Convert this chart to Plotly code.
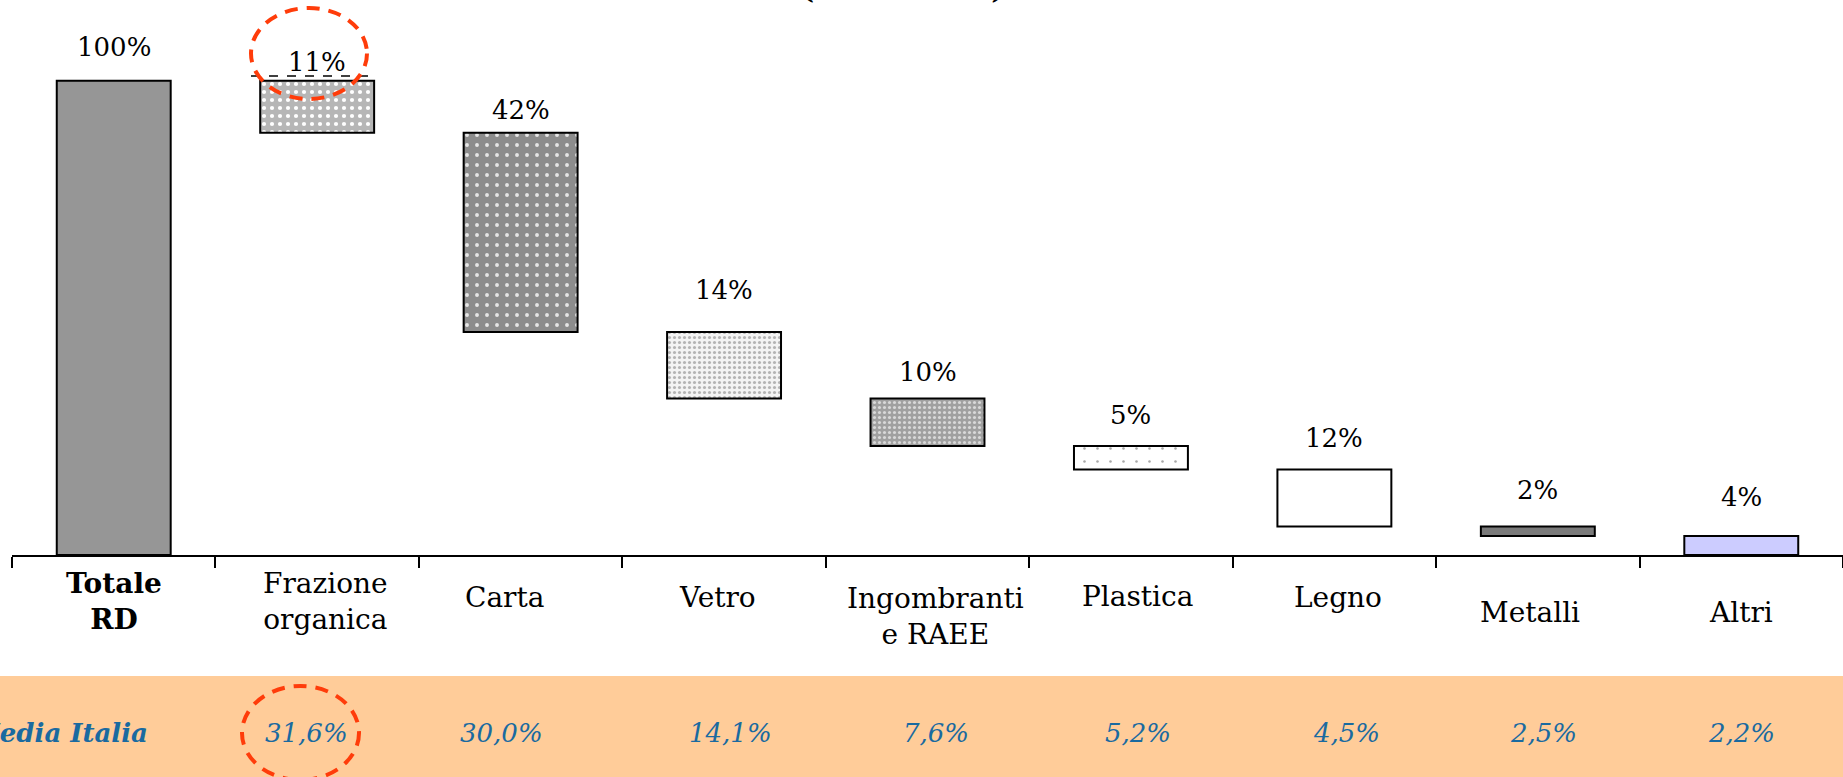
import plotly.graph_objects as go

# ---------------- data ----------------
categories = ["Totale RD", "Frazione organica", "Carta", "Vetro",
              "Ingombranti e RAEE", "Plastica", "Legno", "Metalli", "Altri"]
category_labels = ["<b>Totale<br>RD</b>", "Frazione<br>organica", "Carta", "Vetro",
                   "Ingombranti<br>e RAEE", "Plastica", "Legno", "Metalli", "Altri"]
shares = [100, 11, 42, 14, 10, 5, 12, 2, 4]          # % of total RD
media_italia = [31.6, 30.0, 14.1, 7.6, 5.2, 4.5, 2.5, 2.2]  # Italian average (Frazione..Altri)
media_label = "Media Italia"

# ---------------- styles ----------------
W, H = 1843, 777
ML, MR, MT, MB = 12, 0, 0, 222
PW, PH = W - ML - MR, H - MT - MB
YMAX = 117.0
SERIF = "DejaVu Serif"

def px_x(p):
    return (p - ML) / PW

def px_y(p):
    return (H - MB - p) / PH

fills = [
    dict(color="#969696"),
    dict(color="#b8b8b8", pattern=dict(shape=".", bgcolor="#b6b6b6", fgcolor="#ffffff", size=8, solidity=0.22, fillmode="replace")),
    dict(color="#8f8f8f", pattern=dict(shape=".", bgcolor="#8c8c8c", fgcolor="#e6e6e6", size=10, solidity=0.12, fillmode="replace")),
    dict(color="#e8e8e8", pattern=dict(shape=".", bgcolor="#f4f4f4", fgcolor="#b4b4b4", size=5, solidity=0.3, fillmode="replace")),
    dict(color="#a8a8a8", pattern=dict(shape=".", bgcolor="#a0a0a0", fgcolor="#d8d8d8", size=5, solidity=0.3, fillmode="replace")),
    dict(color="#ffffff", pattern=dict(shape=".", bgcolor="#ffffff", fgcolor="#a8a8a8", size=13, solidity=0.03, fillmode="replace")),
    dict(color="#ffffff"),
    dict(color="#7a7a7a"),
    dict(color="#ccccff"),
]
value_label_gap = [34, 19, 23, 42, 26, 31, 32, 37, 39]      # px above bar top
cat_label_center_px = [601, 601, 597, 597, 616, 596, 597, 612, 612]
cat_label_xshift = [0, 8, -16, -7, 8, 7, 4, -8, 0]
media_xshift = [-11, -19, 6, 8, 7, 12, 6, 0]

# ---------------- waterfall geometry from data ----------------
bases, tops = [], []
top = None
for i, v in enumerate(shares):
    if i == 0:
        bases.append(0)
        tops.append(v)
        top = v
    else:
        b = top - v
        bases.append(b)
        tops.append(top)
        top = b

fig = go.Figure()
for i, cat in enumerate(categories):
    m = dict(fills[i])
    m["line"] = dict(color="black", width=2)
    fig.add_trace(go.Bar(x=[cat], y=[shares[i]], base=[bases[i]], marker=m,
                         width=0.56, showlegend=False, hoverinfo="skip"))

annotations = []
# value labels
for i, cat in enumerate(categories):
    annotations.append(dict(x=cat, y=tops[i], xref="x", yref="y", text=f"{shares[i]}%",
                            showarrow=False, yanchor="middle", yshift=value_label_gap[i],
                            font=dict(family=SERIF, size=26, color="black")))
# category labels
for i, cat in enumerate(categories):
    annotations.append(dict(x=cat, y=px_y(cat_label_center_px[i]), xref="x", yref="paper",
                            text=category_labels[i], showarrow=False, yanchor="middle",
                            xshift=cat_label_xshift[i],
                            font=dict(family=SERIF, size=28, color="black")))
# media italia row
BLUE = "#1a6aa0"
annotations.append(dict(x=px_x(150), y=px_y(733), xref="paper", yref="paper",
                        text=f"<b><i>{media_label}</i></b>", showarrow=False,
                        xanchor="right", yanchor="middle",
                        font=dict(family=SERIF, size=26, color=BLUE)))
for j, v in enumerate(media_italia):
    annotations.append(dict(x=categories[j + 1], y=px_y(733), xref="x", yref="paper",
                            text="<i>" + f"{v:.1f}".replace(".", ",") + "%</i>",
                            showarrow=False, yanchor="middle", xshift=media_xshift[j],
                            font=dict(family=SERIF, size=26, color=BLUE)))
# title (mostly above the visible area)
annotations.append(dict(x=px_x(902), y=px_y(7), xref="paper", yref="paper",
                        text="<b>(anno 2009)</b>", showarrow=False, yanchor="bottom",
                        font=dict(family=SERIF, size=30, color="black")))

RED = "#ff3c0a"
shapes = [
    # orange band
    dict(type="rect", xref="paper", yref="paper", x0=px_x(0), x1=px_x(W + 5),
         y0=px_y(676), y1=px_y(H + 5), fillcolor="#ffcc99", line=dict(width=0), layer="below"),
    # dashed reference line above Frazione organica
    dict(type="line", xref="paper", yref="paper", x0=px_x(251), x1=px_x(373),
         y0=px_y(76), y1=px_y(76), line=dict(color="black", width=1.5, dash="dash")),
    # red dashed ellipses
    dict(type="circle", xref="paper", yref="paper", x0=px_x(251), x1=px_x(367),
         y0=px_y(99), y1=px_y(8), line=dict(color=RED, width=4, dash="13px,9px")),
    dict(type="circle", xref="paper", yref="paper", x0=px_x(242), x1=px_x(359),
         y0=px_y(780), y1=px_y(686), line=dict(color=RED, width=4, dash="13px,9px")),
]

fig.update_layout(
    width=W, height=H,
    margin=dict(l=ML, r=MR, t=MT, b=MB, pad=0),
    paper_bgcolor="white", plot_bgcolor="white",
    bargap=0.44, barmode="overlay",
    xaxis=dict(type="category", categoryorder="array", categoryarray=categories,
               showline=True, linecolor="black", linewidth=2,
               ticks="outside", tickson="boundaries", ticklen=11, tickwidth=1.5,
               tickcolor="black", showticklabels=False, showgrid=False, zeroline=False,
               fixedrange=True),
    yaxis=dict(range=[0, YMAX], visible=False, showgrid=False, zeroline=False, fixedrange=True),
    annotations=annotations,
    shapes=shapes,
)

fig.write_html("out.html", config={"displayModeBar": False},
               post_script="document.body.style.margin='0px';document.body.style.overflow='hidden';")
